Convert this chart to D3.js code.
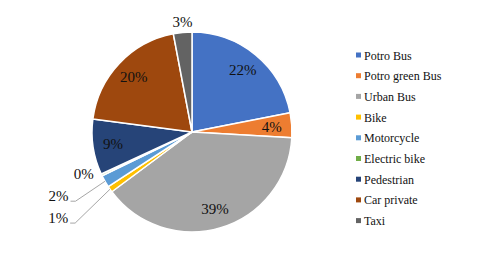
<!DOCTYPE html>
<html>
<head>
<meta charset="utf-8">
<script src="https://cdnjs.cloudflare.com/ajax/libs/d3/7.8.5/d3.min.js"></script>
<style>
    body { margin: 0; background: #fff; }
</style>
</head>
<body>
<div id="chart"></div>
<script>
// Transport modes, clockwise from 12 o'clock
const categories = ["Potro Bus", "Potro green Bus", "Urban Bus", "Bike", "Motorcycle",
    "Electric bike", "Pedestrian", "Car private", "Taxi"];
const shares = [22, 4, 39, 1, 2, 0.3, 9, 20, 3];
const shareLabels = ["22%", "4%", "39%", "1%", "2%", "0%", "9%", "20%", "3%"];

// Excel office palette
const colors = ["#4472C4", "#ED7D31", "#A5A5A5", "#FFC000", "#5B9BD5",
    "#70AD47", "#264478", "#9E480E", "#636363"];

const FONT = "'Liberation Serif', 'DejaVu Serif', 'Times New Roman', serif";

// small slices get their label outside, some pulled away with a leader line
const outside = {
    "Taxi": { dx: 1, dy: 1, line: false },
    "Electric bike": { dx: -7, dy: -6, line: false },
    "Motorcycle": { dx: -36, dy: 9, line: true },
    "Bike": { dx: -42, dy: 22, line: true }
};

const width = 492, height = 265;
const cx = 192, cy = 132, R = 100;

const svg = d3.select("#chart").append("svg")
    .attr("width", width)
    .attr("height", height)
    .style("display", "block");

const g = svg.append("g").attr("transform", `translate(${cx},${cy})`);

const data = categories.map((c, i) => ({ name: c, value: shares[i], label: shareLabels[i] }));

const color = d3.scaleOrdinal().domain(categories).range(colors);

const pie = d3.pie().value(d => d.value).sort(null);
const arc = d3.arc().innerRadius(0).outerRadius(R);
const inLabel = d3.arc().innerRadius(R * 0.8).outerRadius(R * 0.8);
const outLabel = d3.arc().innerRadius(R * 1.12).outerRadius(R * 1.12);
const edge = d3.arc().innerRadius(R).outerRadius(R);

const arcs = pie(data);

g.selectAll("path.slice")
    .data(arcs)
    .join("path")
    .attr("class", "slice")
    .attr("d", arc)
    .attr("fill", d => color(d.data.name))
    .attr("stroke", "#fff")
    .attr("stroke-width", 1.5)
    .attr("stroke-linejoin", "round");

// labels
arcs.forEach(d => {
    const name = d.data.name;
    let pos;
    if (name in outside) {
        const c = outLabel.centroid(d);
        const nudge = outside[name];
        pos = [c[0] + nudge.dx, c[1] + nudge.dy];
        if (nudge.line) {
            const end = edge.centroid(d);
            const x0 = pos[0] + 12, y0 = pos[1] + 5;
            g.append("polyline")
                .attr("points", `${x0},${y0} ${x0 + 5},${y0} ${end[0]},${end[1]}`)
                .attr("fill", "none")
                .attr("stroke", "#a6a6a6")
                .attr("stroke-width", 1);
        }
    } else {
        pos = inLabel.centroid(d);
    }
    g.append("text")
        .attr("x", pos[0])
        .attr("y", pos[1])
        .attr("text-anchor", "middle")
        .attr("dominant-baseline", "central")
        .attr("font-family", FONT)
        .attr("font-size", 15)
        .attr("fill", "#111")
        .text(d.data.label);
});

// legend
const legend = svg.append("g").attr("transform", "translate(356,55)");
const legendY = d3.scalePoint().domain(categories).range([0, 165.6]);

const item = legend.selectAll("g")
    .data(categories)
    .join("g")
    .attr("transform", d => `translate(0,${legendY(d)})`);

item.append("rect")
    .attr("x", 0)
    .attr("y", -2.5)
    .attr("width", 5)
    .attr("height", 5)
    .attr("fill", d => color(d));

item.append("text")
    .attr("x", 8)
    .attr("y", 0.5)
    .attr("dominant-baseline", "central")
    .attr("font-family", FONT)
    .attr("font-size", 12)
    .attr("fill", "#111")
    .text(d => d);
</script>
</body>
</html>
